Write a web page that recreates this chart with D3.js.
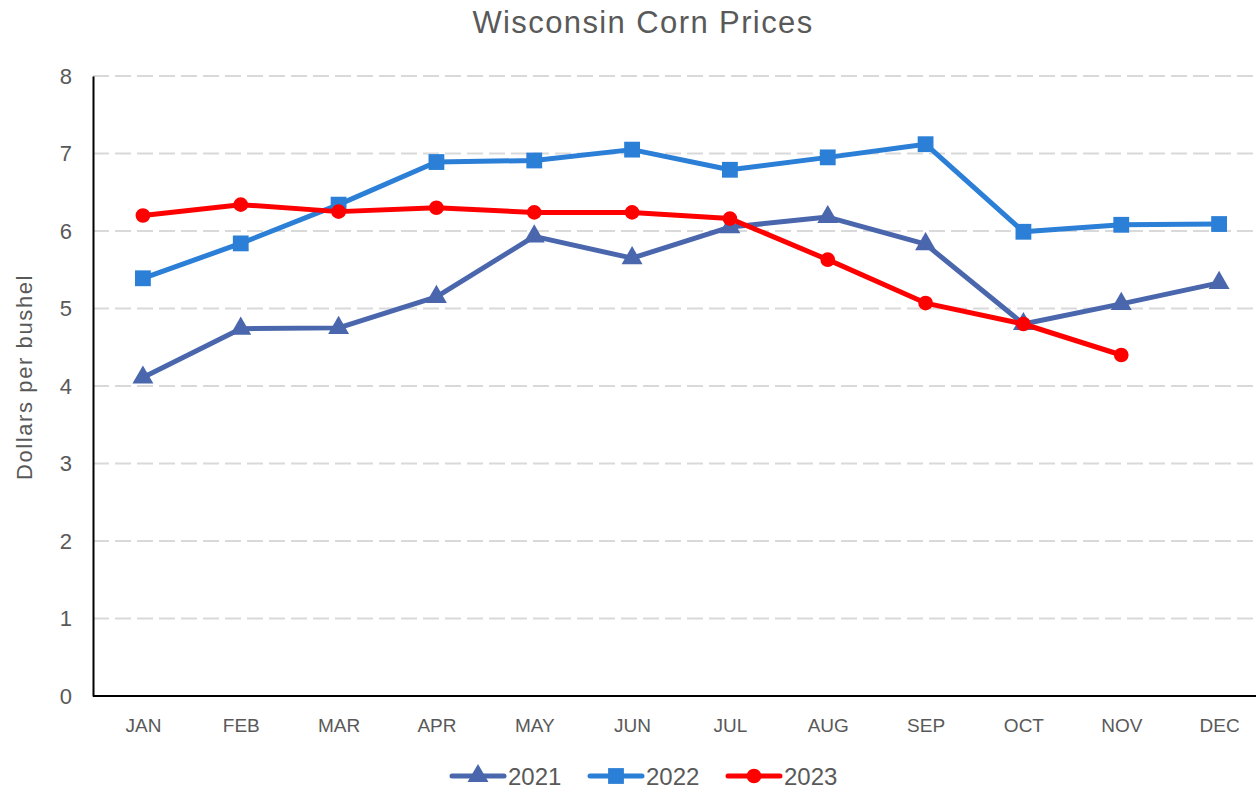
<!DOCTYPE html>
<html>
<head>
<meta charset="utf-8">
<script src="https://cdn.jsdelivr.net/npm/d3@7"></script>
<style>
  body { margin: 0; background: #fff; }
  text { font-family: "Liberation Sans", Arial, sans-serif; fill: #595959; }
</style>
</head>
<body>
<script>
// data
const months = ["JAN","FEB","MAR","APR","MAY","JUN","JUL","AUG","SEP","OCT","NOV","DEC"];
const prices2021 = [4.11, 4.74, 4.75, 5.15, 5.93, 5.65, 6.05, 6.18, 5.83, 4.80, 5.06, 5.33];
const prices2022 = [5.39, 5.84, 6.34, 6.89, 6.91, 7.05, 6.79, 6.95, 7.12, 5.99, 6.08, 6.09];
const prices2023 = [6.20, 6.34, 6.25, 6.30, 6.24, 6.24, 6.16, 5.63, 5.07, 4.80, 4.40];
const yTicks = [0, 1, 2, 3, 4, 5, 6, 7, 8];

const series = [
  {name: "2021", values: prices2021, color: "#4A66AC", symbol: d3.symbolTriangle, size: 190},
  {name: "2022", values: prices2022, color: "#2B7FD6", symbol: d3.symbolSquare, size: 250},
  {name: "2023", values: prices2023, color: "#FF0000", symbol: d3.symbolCircle, size: 170}
];

var width = 1256, height = 789;
var svg = d3.select("body").append("svg")
    .attr("width", width)
    .attr("height", height);

var x = d3.scalePoint().domain(months).range([94, 1268]).padding(0.5);
var y = d3.scaleLinear().domain([0, 8]).range([696, 76]);

// title
svg.append("text")
    .attr("x", 643).attr("y", 33)
    .attr("text-anchor", "middle")
    .style("font-size", "31px")
    .style("letter-spacing", "1.4px")
    .text("Wisconsin Corn Prices");

// gridlines
svg.append("g")
    .selectAll("line")
    .data(yTicks.filter(d => d > 0))
    .enter().append("line")
    .attr("x1", 93).attr("x2", width)
    .attr("y1", d => y(d)).attr("y2", d => y(d))
    .attr("stroke", "#d9d9d9")
    .attr("stroke-width", 2)
    .attr("stroke-dasharray", "16,6");

// y axis
var yAxis = svg.append("g")
    .attr("transform", "translate(93,0)")
    .call(d3.axisLeft(y).tickValues(yTicks).tickSize(0).tickPadding(21));
yAxis.select(".domain").attr("stroke", "#000").attr("stroke-width", 2);
yAxis.selectAll("text").style("font-size", "22px").attr("fill", "#595959");

// x axis
var xAxis = svg.append("g")
    .attr("transform", "translate(0,696)")
    .call(d3.axisBottom(x).tickSize(0).tickPadding(0));
xAxis.select(".domain").attr("d", "M93,0H" + width).attr("stroke", "#000").attr("stroke-width", 2);
xAxis.selectAll("text")
    .attr("dy", null).attr("y", 36)
    .style("font-size", "19px").attr("fill", "#595959");

// y label
svg.append("text")
    .attr("transform", "translate(32,377) rotate(-90)")
    .attr("text-anchor", "middle")
    .style("font-size", "22px")
    .style("letter-spacing", "1.6px")
    .text("Dollars per bushel");

// lines
var line = d3.line()
    .x((d, i) => x(months[i]))
    .y(d => y(d));

series.forEach(function(s) {
    svg.append("path")
        .datum(s.values)
        .attr("fill", "none")
        .attr("stroke", s.color)
        .attr("stroke-width", 5)
        .attr("stroke-linejoin", "round")
        .attr("stroke-linecap", "round")
        .attr("d", line);
    svg.append("g")
        .selectAll("path")
        .data(s.values)
        .enter().append("path")
        .attr("transform", (d, i) => "translate(" + x(months[i]) + "," + y(d) + ")")
        .attr("d", d3.symbol().type(s.symbol).size(s.size))
        .attr("fill", s.color);
});

// legend
var legendX = [450, 588, 726];
series.forEach(function(s, i) {
    var g = svg.append("g").attr("transform", "translate(" + legendX[i] + ",776)");
    g.append("line")
        .attr("x1", 2).attr("x2", 54)
        .attr("stroke", s.color)
        .attr("stroke-width", 5)
        .attr("stroke-linecap", "round");
    g.append("path")
        .attr("transform", "translate(28,0)")
        .attr("d", d3.symbol().type(s.symbol).size(s.size))
        .attr("fill", s.color);
    g.append("text")
        .attr("x", 58).attr("y", 9)
        .style("font-size", "24px")
        .text(s.name);
});
</script>
</body>
</html>
